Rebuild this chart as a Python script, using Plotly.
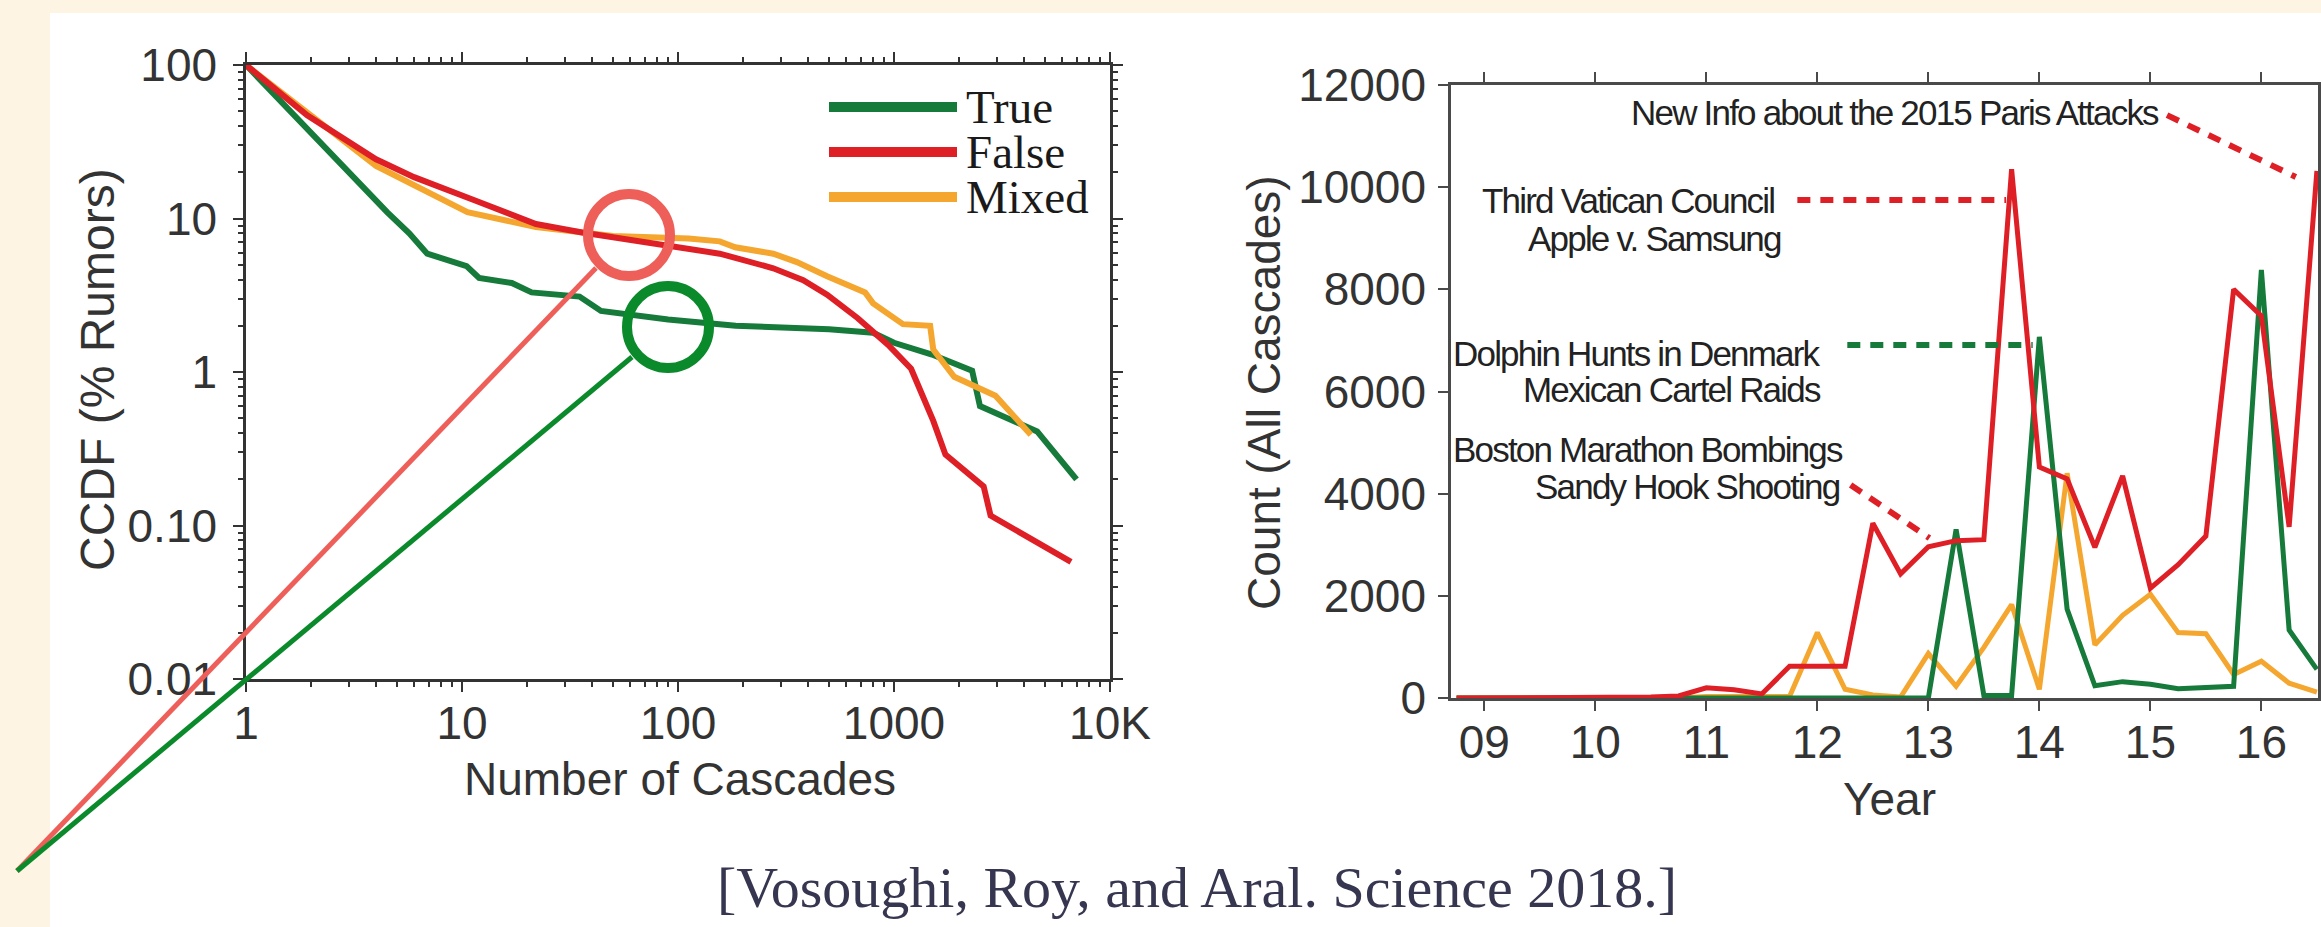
import plotly.graph_objects as go

W, H = 2321, 927

# ---------------- data: left panel (CCDF of cascades per rumor) ----------------
true_x = [1, 3.9, 4.5, 5.7, 6.9, 10.5, 12, 17, 21, 35, 44, 90, 185, 500, 800, 1000, 1500, 2300, 2500, 4600, 7000]
true_y = [100, 13.2, 11, 8.0, 5.9, 4.9, 4.1, 3.8, 3.3, 3.1, 2.5, 2.2, 2.0, 1.9, 1.8, 1.55, 1.3, 1.02, 0.6, 0.41, 0.2]

false_x = [1, 1.92, 4.0, 6.0, 11.5, 22, 36, 88, 156, 276, 380, 490, 680, 940, 1200, 1520, 1730, 2600, 2800, 6600]
false_y = [100, 47, 24.3, 18.6, 13.1, 9.2, 8.1, 6.75, 5.9, 4.74, 3.97, 3.19, 2.24, 1.5, 1.05, 0.48, 0.29, 0.18, 0.116, 0.058]

mixed_x = [1, 4, 10.6, 22, 50, 112, 156, 184, 276, 355, 490, 735, 800, 1100, 1470, 1520, 1900, 2950, 4300]
mixed_y = [100, 22, 11, 8.8, 7.7, 7.4, 7.1, 6.5, 5.9, 5.2, 4.2, 3.3, 2.8, 2.05, 2.0, 1.4, 0.93, 0.7, 0.39]

cascade_ticks = [1, 10, 100, 1000, 10000]
cascade_labels = ["1", "10", "100", "1000", "10K"]
ccdf_ticks = [0.01, 0.1, 1, 10, 100]
ccdf_labels = ["0.01", "0.10", "1", "10", "100"]

# ---------------- data: right panel (cascade counts by quarter) ----------------
quarters = [8.75, 9.0, 9.25, 9.5, 9.75, 10.0, 10.25, 10.5, 10.75, 11.0, 11.25, 11.5,
            11.75, 12.0, 12.25, 12.5, 12.75, 13.0, 13.25, 13.5, 13.75, 14.0, 14.25, 14.5,
            14.75, 15.0, 15.25, 15.5, 15.75, 16.0, 16.25, 16.5]
count_false = [0, 0, 0, 0, 10, 10, 10, 20, 40, 200, 160, 80,
               620, 620, 620, 3420, 2430, 2960, 3080, 3100, 10350, 4520, 4290, 2950,
               4350, 2150, 2610, 3170, 8000, 7480, 3350, 10320]
count_true = [0, 0, 0, 0, 0, 0, 0, 0, 0, 0, 0, 0,
              20, 20, 20, 10, 0, 0, 3300, 50, 50, 7070, 1740, 240,
              320, 270, 180, 200, 230, 8380, 1330, 560]
count_mixed = [0, 0, 0, 0, 0, 0, 0, 0, 0, 30, 30, 30,
               30, 1280, 170, 60, 20, 870, 230, 990, 1830, 170, 4400, 1040,
               1620, 2030, 1280, 1260, 460, 720, 290, 115]

year_ticks = [9, 10, 11, 12, 13, 14, 15, 16]
year_labels = ["09", "10", "11", "12", "13", "14", "15", "16"]
count_ticks = [0, 2000, 4000, 6000, 8000, 10000, 12000]
count_labels = ["0", "2000", "4000", "6000", "8000", "10000", "12000"]

series_names = ["True", "False", "Mixed"]

# event annotations: (text, right-end year, value)
event_labels = [
    ("New Info about the 2015 Paris Attacks", 15.10, 11470),
    ("Third Vatican Council", 11.63, 9730),
    ("Apple v. Samsung", 11.69, 9000),
    ("Dolphin Hunts in Denmark", 12.05, 6750),
    ("Mexican Cartel Raids", 12.05, 6030),
    ("Boston Marathon Bombings", 12.25, 4870),
    ("Sandy Hook Shooting", 12.22, 4150),
]
# leader lines: (x0, y0, x1, y1, colour key)
event_leaders = [
    (15.15, 11410, 16.31, 10200, "red"),
    (11.82, 9750, 13.70, 9750, "red"),
    (12.27, 6910, 13.94, 6910, "green"),
    (12.30, 4170, 13.01, 3130, "red"),
]

citation = "[Vosoughi, Roy, and Aral. Science 2018.]"

# ---------------- style ----------------
CREAM = "#FEF4E3"
GREEN = "#167A3B"
RED = "#DE1F26"
ORANGE = "#F4A62F"
SALMON = "#EE5F59"
BRIGHT_GREEN = "#0B8A2C"
AX = "#333333"
AX2 = "#4a4a4a"
SANS = "Liberation Sans, Arial, sans-serif"
SERIF = "Liberation Serif, Times New Roman, serif"


def px(x):
    return x / W


def py(y):
    return 1 - y / H


minor_vals = [k * 10.0 ** e for e in range(-2, 4) for k in range(2, 10)]

fig = go.Figure()
colors = {"True": GREEN, "False": RED, "Mixed": ORANGE}

fig.add_trace(go.Scatter(x=true_x, y=true_y, mode="lines", name=series_names[0],
                         line=dict(color=GREEN, width=6), xaxis="x", yaxis="y"))
fig.add_trace(go.Scatter(x=mixed_x, y=mixed_y, mode="lines", name=series_names[2],
                         line=dict(color=ORANGE, width=6), xaxis="x", yaxis="y"))
fig.add_trace(go.Scatter(x=false_x, y=false_y, mode="lines", name=series_names[1],
                         line=dict(color=RED, width=6), xaxis="x", yaxis="y"))

fig.add_trace(go.Scatter(x=quarters, y=count_mixed, mode="lines", name="Mixed",
                         line=dict(color=ORANGE, width=5), xaxis="x2", yaxis="y2"))
fig.add_trace(go.Scatter(x=quarters, y=count_true, mode="lines", name="True",
                         line=dict(color=GREEN, width=5), xaxis="x2", yaxis="y2"))
fig.add_trace(go.Scatter(x=quarters, y=count_false, mode="lines", name="False",
                         line=dict(color=RED, width=5), xaxis="x2", yaxis="y2"))

tickfont = dict(family=SANS, size=46, color="#333333")
common = dict(tickmode="array", tickfont=tickfont, ticks="outside", ticklen=10, tickwidth=2,
              showline=True, linewidth=2.5, mirror="ticks", showgrid=False,
              zeroline=False, automargin=False)
minor = dict(ticks="outside", ticklen=5, tickwidth=1.5, tickcolor=AX,
             tickmode="array", tickvals=minor_vals, showgrid=False)

fig.update_layout(
    width=W, height=H, margin=dict(l=0, r=0, t=0, b=0, pad=0), autosize=False,
    paper_bgcolor=CREAM, plot_bgcolor="white", showlegend=False,
    xaxis=dict(type="log", range=[0, 4], domain=[px(246), px(1110)], anchor="y",
               tickvals=cascade_ticks, ticktext=cascade_labels, ticklabelstandoff=-8,
               tickcolor=AX, linecolor=AX, minor=minor, **common),
    yaxis=dict(type="log", range=[-2, 2], domain=[py(679), py(65)], anchor="x",
               tickvals=ccdf_ticks, ticktext=ccdf_labels, ticklabelstandoff=7,
               tickcolor=AX, linecolor=AX, minor=minor, **common),
    xaxis2=dict(range=[8.7, 16.51], domain=[px(1451), px(2318)], anchor="y2",
                tickvals=year_ticks, ticktext=year_labels, ticklabelstandoff=-8,
                tickcolor=AX2, linecolor=AX2, **common),
    yaxis2=dict(range=[0, 12000], domain=[py(698), py(85)], anchor="x2",
                tickvals=count_ticks, ticktext=count_labels, ticklabelstandoff=3,
                tickcolor=AX2, linecolor=AX2, **common),
)

shapes = []
# white slide panel on the cream background
shapes.append(dict(type="rect", xref="paper", yref="paper", x0=px(50), x1=1.0,
                   y0=0, y1=py(13), fillcolor="white", line=dict(width=0), layer="below"))

# manual legend for left panel
leg_rows = [(series_names[0], 107), (series_names[1], 152), (series_names[2], 197)]
annotations = []
for name, yy in leg_rows:
    shapes.append(dict(type="line", xref="paper", yref="paper",
                       x0=px(829), x1=px(957), y0=py(yy), y1=py(yy),
                       line=dict(color=colors[name], width=10)))
    annotations.append(dict(xref="paper", yref="paper", x=px(964), y=py(yy), text=name,
                            xanchor="left", yanchor="middle", showarrow=False, height=42,
                            font=dict(family=SERIF, size=47, color="#1a1a1a")))

# highlight circles and pointer lines (slide overlay)
for (cx, cy, col) in [(629, 235, SALMON), (668, 327, BRIGHT_GREEN)]:
    r = 41
    shapes.append(dict(type="circle", xref="paper", yref="paper",
                       x0=px(cx - r), x1=px(cx + r), y0=py(cy + r), y1=py(cy - r),
                       line=dict(color=col, width=10)))
shapes.append(dict(type="line", xref="paper", yref="paper", x0=px(17), y0=py(871),
                   x1=px(596), y1=py(268), line=dict(color=SALMON, width=5)))
shapes.append(dict(type="line", xref="paper", yref="paper", x0=px(17), y0=py(871),
                   x1=px(632), y1=py(357), line=dict(color=BRIGHT_GREEN, width=5)))

# event leader lines in right panel
for x0, y0, x1, y1, ck in event_leaders:
    shapes.append(dict(type="line", xref="x2", yref="y2", x0=x0, y0=y0, x1=x1, y1=y1,
                       line=dict(color=RED if ck == "red" else GREEN, width=6, dash="13px,10px")))

for text, xr, yv in event_labels:
    annotations.append(dict(xref="x2", yref="y2", x=xr, y=yv,
                            text='<span style="letter-spacing:-1.8px">' + text + '</span>',
                            xanchor="right", yanchor="middle", showarrow=False,
                            font=dict(family=SANS, size=35, color="#222222")))

# axis titles
title_font = dict(family=SANS, size=46, color="#333333")
annotations += [
    dict(xref="paper", yref="paper", x=px(97), y=py(370), text="CCDF (% Rumors)",
         textangle=-90, xanchor="center", yanchor="middle", showarrow=False,
         font=dict(family=SANS, size=48, color="#333333")),
    dict(xref="paper", yref="paper", x=px(680), y=py(779), text="Number of Cascades",
         xanchor="center", yanchor="middle", showarrow=False, font=title_font),
    dict(xref="paper", yref="paper", x=px(1264), y=py(393), text="Count (All Cascades)",
         textangle=-90, xanchor="center", yanchor="middle", showarrow=False, font=title_font),
    dict(xref="paper", yref="paper", x=px(1889), y=py(799), text="Year",
         xanchor="center", yanchor="middle", showarrow=False, font=title_font),
    dict(xref="paper", yref="paper", x=px(1197), y=py(887), text=citation,
         xanchor="center", yanchor="middle", showarrow=False,
         font=dict(family=SERIF, size=58, color="#363650")),
]

fig.update_layout(shapes=shapes, annotations=annotations)
fig.write_html("out.html",
               config={"displayModeBar": False},
               post_script="document.body.style.margin='0px';"
                           "document.body.style.overflow='hidden';")
